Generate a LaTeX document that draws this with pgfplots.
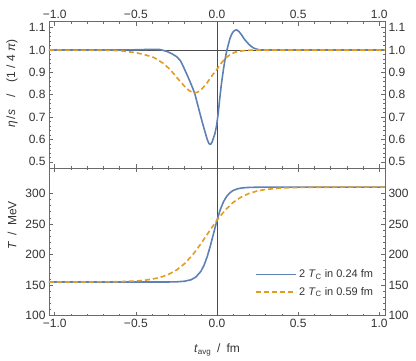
\documentclass[border=0pt]{standalone}
\usepackage{fontspec}
\setmainfont{Liberation Sans}
\usepackage{pgfplots}
\pgfplotsset{compat=1.18}

\definecolor{mblue}{rgb}{0.368417,0.506779,0.709798}
\definecolor{morange}{rgb}{0.880722,0.611041,0.142051}
\definecolor{framec}{gray}{0.42}
\definecolor{txt}{gray}{0.2}

\pgfplotsset{
  panel/.style={
    width=336pt, scale only axis,
    xmin=-1.035, xmax=1.035,
    xtick={-1,-0.5,0,0.5,1},
    minor x tick num=4, minor y tick num=4,
    tick align=inside, major tick length=4pt, minor tick length=2pt,
    axis line style={framec, line width=0.5pt},
    every tick/.style={framec, line width=0.4pt},
    tick label style={font=\fontsize{12}{14}\selectfont, text=txt},
    label style={font=\fontsize{12}{14}\selectfont, text=txt},
    /pgf/number format/assume math mode=true,
  },
  rlabels/.style={
    width=336pt, scale only axis,
    xmin=-1.035, xmax=1.035, hide x axis,
    axis y line*=right, y axis line style={draw=none},
    major tick length=0pt, minor tick num=0,
    yticklabel style={font=\fontsize{12}{14}\selectfont, text=txt},
  },
  blueline/.style={mblue, line width=1.6pt},
  orangeline/.style={morange, line width=1.6pt, dash pattern=on 5pt off 3pt},
}

\begin{document}
\begin{tikzpicture}

% top panel: eta/s
\begin{axis}[panel,
  at={(0,147.4pt)}, anchor=south west, height=146.6pt,
  ymin=0.4705, ymax=1.1267,
  ytick={0.5,0.6,0.7,0.8,0.9,1.0,1.1},
  yticklabels={0.5,0.6,0.7,0.8,0.9,1.0,1.1},
  xticklabel pos=top,
  xticklabels={−1.0,−0.5,0.0,0.5,1.0},
  yticklabel pos=left,
  extra x ticks={0}, extra x tick labels={},
  extra y ticks={1}, extra y tick labels={},
  extra tick style={grid=major, major grid style={black!70, line width=0.5pt}, major tick length=0pt},
  ylabel={\textit{η}\,/\textit{s}\enspace\enspace/\enspace\enspace(1 / 4 \textit{π})},
  ylabel style={at={([xshift=-37pt]rel axis cs:0,0.578)}, anchor=center},
]
\addplot[blueline] coordinates {
(-1.035,1.0) (-0.6,1.0) (-0.5,1.001) (-0.4,1.003) (-0.35,1.002) (-0.31,0.994)
(-0.28,0.984) (-0.248,0.97) (-0.225,0.952) (-0.207,0.925) (-0.185,0.89)
(-0.166,0.858) (-0.15,0.83) (-0.135,0.80) (-0.12,0.758) (-0.105,0.716)
(-0.09,0.675) (-0.074,0.634) (-0.06,0.599) (-0.05,0.582) (-0.045,0.578)
(-0.038,0.579) (-0.03,0.588) (-0.023,0.603) (-0.012,0.628) (-0.002,0.664)
(0.008,0.72) (0.018,0.79) (0.028,0.852) (0.039,0.91) (0.049,0.955)
(0.059,0.993) (0.07,1.025) (0.08,1.052) (0.09,1.07) (0.10,1.082)
(0.11,1.088) (0.121,1.09) (0.135,1.083) (0.152,1.067) (0.167,1.05)
(0.182,1.037) (0.197,1.025) (0.213,1.015) (0.228,1.008) (0.244,1.004)
(0.26,1.001) (0.285,1.0) (1.035,1.0)
};
\addplot[orangeline] coordinates {
(-1.035,1.0) (-0.7,0.999) (-0.6,0.997) (-0.5,0.988) (-0.45,0.98) (-0.39,0.967)
(-0.33,0.94) (-0.3,0.92) (-0.268,0.895) (-0.237,0.868) (-0.207,0.843)
(-0.185,0.826) (-0.166,0.816) (-0.15,0.811) (-0.135,0.809) (-0.12,0.811)
(-0.105,0.818) (-0.085,0.832) (-0.064,0.85) (-0.043,0.872) (-0.023,0.893)
(0,0.914) (0.02,0.935) (0.039,0.953) (0.06,0.968) (0.08,0.979) (0.11,0.99)
(0.141,0.995) (0.18,0.998) (0.223,1.0) (1.035,1.0)
};
\end{axis}
\begin{axis}[rlabels,
  at={(0,147.4pt)}, anchor=south west, height=146.6pt,
  ymin=0.4705, ymax=1.1267,
  ytick={0.5,0.6,0.7,0.8,0.9,1.0,1.1},
  yticklabels={0.5,0.6,0.7,0.8,0.9,1.0,1.1},
]
\end{axis}

% bottom panel: T
\begin{axis}[panel,
  at={(0,0)}, anchor=south west, height=147.4pt,
  ymin=100, ymax=340.8,
  ytick={100,150,200,250,300},
  yticklabels={100,150,200,250,300},
  xticklabel pos=bottom,
  xticklabels={−1.0,−0.5,0.0,0.5,1.0},
  yticklabel pos=left,
  extra x ticks={0}, extra x tick labels={},
  extra tick style={grid=major, major grid style={black!70, line width=0.5pt}, major tick length=0pt},
  xlabel={\textit{t}\textsubscript{avg}\enspace/\enspace fm},
  xlabel style={at={([yshift=-34pt]rel axis cs:0.5,0)}, anchor=center},
  ylabel={\textit{T}\enspace/\enspace MeV},
  ylabel style={at={([xshift=-37pt]rel axis cs:0,0.615)}, anchor=center},
  legend style={at={(rel axis cs:0.98,0.1)}, anchor=south east, draw=none, fill=none,
    font=\fontsize{11}{13}\selectfont, text=txt, row sep=4pt, cells={anchor=west}},
  legend image code/.code={\draw[#1] (0pt,0pt) -- (40pt,0pt);},
]
\addplot[blueline] coordinates {
(-1.035,155.0) (-0.3,155.1) (-0.25,155.3) (-0.2,156.3) (-0.16,158.7)
(-0.13,163.2) (-0.1,172.2) (-0.08,182.3) (-0.06,196.7) (-0.04,215.0)
(-0.02,235.6) (0,255.8) (0.02,273.1) (0.04,286.1) (0.06,295.1)
(0.08,301.0) (0.1,304.6) (0.13,307.6) (0.16,308.9) (0.2,309.6)
(0.25,309.9) (0.3,310.0) (1.035,310.0)
};
\addlegendentry{2 \textit{T}\textsubscript{C} in 0.24 fm}
\addplot[orangeline] coordinates {
(-1.035,155.0) (-0.8,155.1) (-0.7,155.2) (-0.6,155.6) (-0.5,156.7)
(-0.45,157.8) (-0.4,159.7) (-0.35,162.6) (-0.3,167.3) (-0.25,174.5)
(-0.2,185.0) (-0.15,199.4) (-0.1,217.2) (-0.05,236.9) (0,256.0)
(0.05,272.4) (0.1,285.1) (0.15,294.0) (0.2,300.0) (0.25,303.9)
(0.3,306.3) (0.4,308.6) (0.5,309.5) (0.6,309.8) (0.8,310.0) (1.035,310.0)
};
\addlegendentry{2 \textit{T}\textsubscript{C} in 0.59 fm}
\end{axis}
\begin{axis}[rlabels,
  at={(0,0)}, anchor=south west, height=147.4pt,
  ymin=100, ymax=340.8,
  ytick={100,150,200,250,300},
  yticklabels={100,150,200,250,300},
]
\end{axis}

\pgfresetboundingbox
\path (-49pt,-45.3pt) rectangle (367pt,315.7pt);
\end{tikzpicture}
\end{document}
